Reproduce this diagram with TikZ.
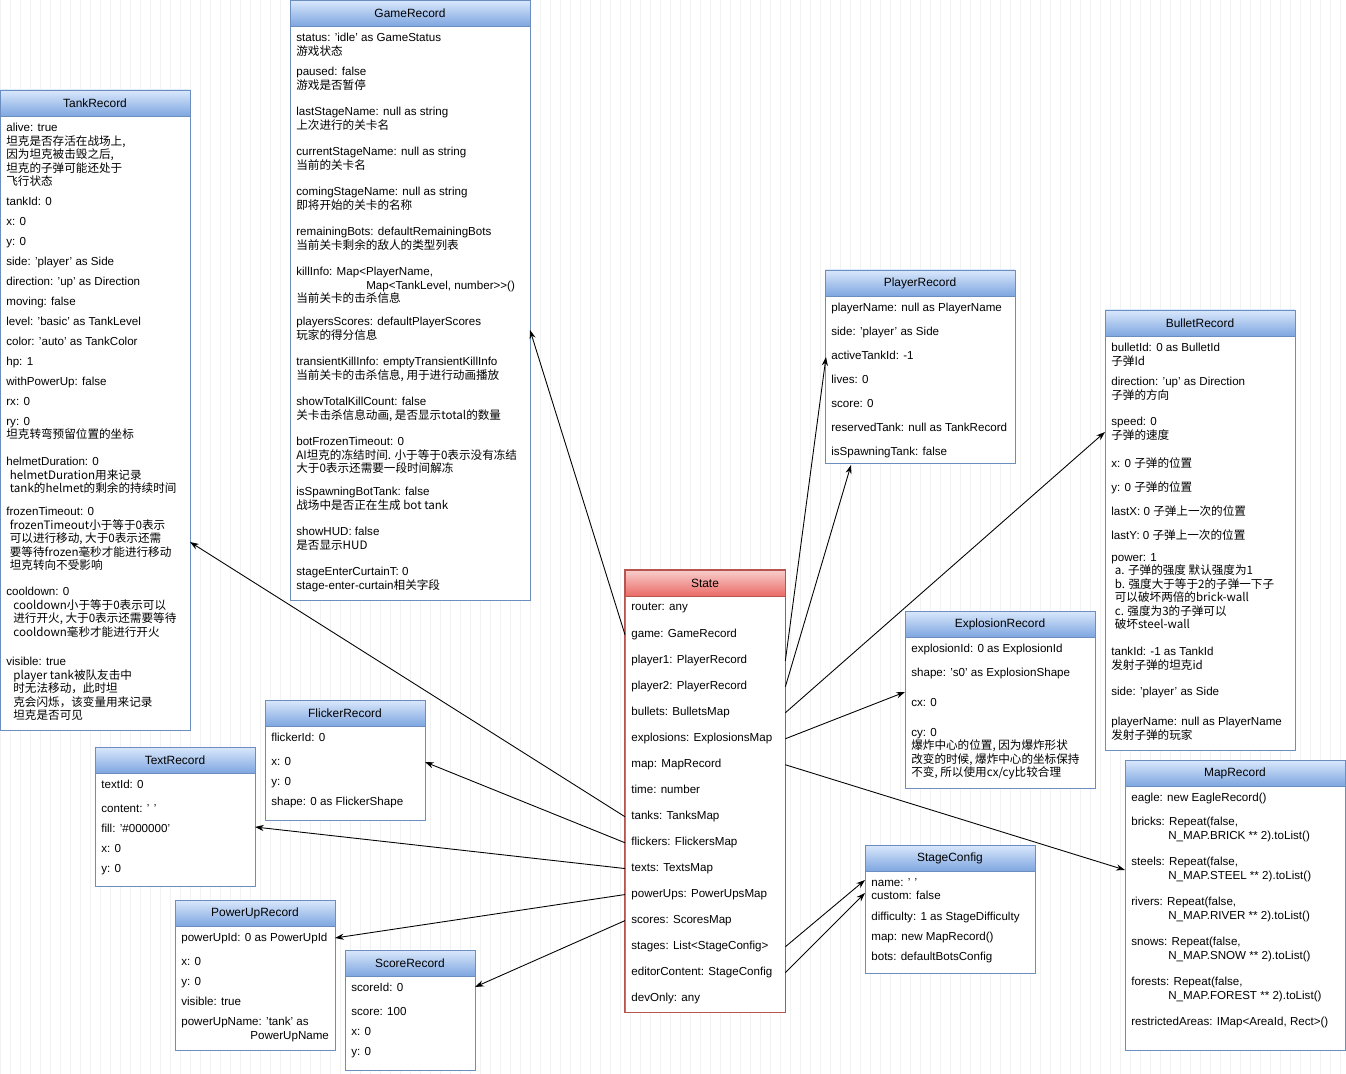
\documentclass[tikz,border=0pt]{standalone}
\usepackage{fontspec}
\setmainfont{Liberation Sans}
\newfontfamily\cjk{Noto Sans CJK SC}
\usetikzlibrary{fit}
\usetikzlibrary{arrows.meta}
\definecolor{hdrtop}{HTML}{DAE8FC}
\definecolor{hdrbot}{HTML}{7EA6E0}
\definecolor{hdrline}{HTML}{6C8EBF}
\definecolor{redtop}{HTML}{F8CECC}
\definecolor{redbot}{HTML}{EA6B66}
\definecolor{redline}{HTML}{B85450}
\tikzstyle{body} = [rectangle, draw=hdrline, fill=white, inner sep=0pt]
\tikzstyle{hdr} = [body, top color=hdrtop, bottom color=hdrbot]
\tikzstyle{hdrred} = [rectangle, draw=redline, inner sep=0pt, top color=redtop, bottom color=redbot]
\tikzstyle{fld} = [anchor=north west, align=left, inner xsep=0.12cm, inner ysep=0pt,
  font=\fontsize{6.6}{7.68}\selectfont]
\tikzstyle{ttl} = [font=\fontsize{6.8}{8}\selectfont]
\tikzstyle{link} = [-{Stealth[length=5pt,width=3.5pt]}, black, line width=0.5pt]
\newcommand{\zh}[1]{{\cjk #1}}
% record box: name, x, top, width, bottom, title, header style
\newcommand{\rec}[7]{
  \node[body, fit={(#2,#3) (#2+#4,#5)}] (#1B) {};
  \node[#7, fit={(#2,#3) (#2+#4,#3+26)}] (#1H) {};
  \node[ttl] at (#1H) {#6};
}
\newcommand{\fl}[4]{\node[fld] (#1) at (#2,#3) {#4};}

\begin{document}
\begin{tikzpicture}[x=0.02cm, y=-0.02cm]
  \useasboundingbox (0,0) rectangle (1346,1074);
  \fill[white] (0,0) rectangle (1346,1074);
  \draw[gray!10, step=10, line width=0.3pt] (0,0) grid (1346,1074);

  % GameRecord
  \rec{game}{290}{0}{240}{600}{GameRecord}{hdr}
  \fl{gStatus}{290}{33}{status: 'idle' as GameStatus\\\zh{游戏状态}}
  \fl{gPaused}{290}{67}{paused: false\\\zh{游戏是否暂停}}
  \fl{gLast}{290}{107}{lastStageName: null as string\\\zh{上次进行的关卡名}}
  \fl{gCur}{290}{147}{currentStageName: null as string\\\zh{当前的关卡名}}
  \fl{gComing}{290}{187}{comingStageName: null as string\\\zh{即将开始的关卡的名称}}
  \fl{gRemain}{290}{227}{remainingBots: defaultRemainingBots\\\zh{当前关卡剩余的敌人的类型列表}}
  \fl{gKill}{290}{267}{killInfo: Map<PlayerName,\\\hspace{1.4cm}Map<TankLevel, number>{}>()\\\zh{当前关卡的击杀信息}}
  \fl{gScores}{290}{317}{playersScores: defaultPlayerScores\\\zh{玩家的得分信息}}
  \fl{gTrans}{290}{357}{transientKillInfo: emptyTransientKillInfo\\\zh{当前关卡的击杀信息, 用于进行动画播放}}
  \fl{gShowKill}{290}{397}{showTotalKillCount: false\\\zh{关卡击杀信息动画, 是否显示total的数量}}
  \fl{gFrozen}{290}{437}{botFrozenTimeout: 0\\\zh{AI坦克的冻结时间. 小于等于0表示没有冻结}\\\zh{大于0表示还需要一段时间解冻}}
  \fl{gSpawn}{290}{487}{isSpawningBotTank: false\\\zh{战场中是否正在生成 bot tank}}
  \fl{gHud}{290}{527}{showHUD: false\\\zh{是否显示HUD}}
  \fl{gCurtain}{290}{567}{stageEnterCurtainT: 0\\stage-enter-curtain\zh{相关字段}}

  % TankRecord
  \rec{tank}{0}{90}{190}{730}{TankRecord}{hdr}
  \fl{tAlive}{0}{123}{alive: true\\\zh{坦克是否存活在战场上,}\\\zh{因为坦克被击毁之后,}\\\zh{坦克的子弹可能还处于}\\\zh{飞行状态}}
  \fl{tId}{0}{197}{tankId: 0}
  \fl{tX}{0}{217}{x: 0}
  \fl{tY}{0}{237}{y: 0}
  \fl{tSide}{0}{257}{side: 'player' as Side}
  \fl{tDir}{0}{277}{direction: 'up' as Direction}
  \fl{tMoving}{0}{297}{moving: false}
  \fl{tLevel}{0}{317}{level: 'basic' as TankLevel}
  \fl{tColor}{0}{337}{color: 'auto' as TankColor}
  \fl{tHp}{0}{357}{hp: 1}
  \fl{tPower}{0}{377}{withPowerUp: false}
  \fl{tRx}{0}{397}{rx: 0}
  \fl{tRy}{0}{417}{ry: 0\\\zh{坦克转弯预留位置的坐标}}
  \fl{tHelmet}{0}{457}{helmetDuration: 0\\\hspace{2pt}\zh{helmetDuration用来记录}\\\hspace{2pt}\zh{tank的helmet的剩余的持续时间}}
  \fl{tFrozen}{0}{507}{frozenTimeout: 0\\\hspace{2pt}\zh{frozenTimeout小于等于0表示}\\\hspace{2pt}\zh{可以进行移动, 大于0表示还需}\\\hspace{2pt}\zh{要等待frozen毫秒才能进行移动}\\\hspace{2pt}\zh{坦克转向不受影响}}
  \fl{tCool}{0}{587}{cooldown: 0\\\hspace{4pt}\zh{cooldown小于等于0表示可以}\\\hspace{4pt}\zh{进行开火, 大于0表示还需要等待}\\\hspace{4pt}\zh{cooldown毫秒才能进行开火}}
  \fl{tVisible}{0}{657}{visible: true\\\hspace{4pt}\zh{player tank被队友击中}\\\hspace{4pt}\zh{时无法移动，此时坦}\\\hspace{4pt}\zh{克会闪烁，该变量用来记录}\\\hspace{4pt}\zh{坦克是否可见}}

  % PlayerRecord
  \rec{player}{825}{270}{190}{463}{PlayerRecord}{hdr}
  \fl{pName}{825}{303}{playerName: null as PlayerName}
  \fl{pSide}{825}{327}{side: 'player' as Side}
  \fl{pActive}{825}{351}{activeTankId: -1}
  \fl{pLives}{825}{375}{lives: 0}
  \fl{pScore}{825}{399}{score: 0}
  \fl{pReserved}{825}{423}{reservedTank: null as TankRecord}
  \fl{pSpawn}{825}{447}{isSpawningTank: false}

  % BulletRecord
  \rec{bullet}{1105}{310}{190}{750}{BulletRecord}{hdr}
  \fl{bId}{1105}{343}{bulletId: 0 as BulletId\\\zh{子弹Id}}
  \fl{bDir}{1105}{377}{direction: 'up' as Direction\\\zh{子弹的方向}}
  \fl{bSpeed}{1105}{417}{speed: 0\\\zh{子弹的速度}}
  \fl{bX}{1105}{457}{x: 0 \zh{子弹的位置}}
  \fl{bY}{1105}{481}{y: 0 \zh{子弹的位置}}
  \fl{bLastX}{1105}{505}{lastX: 0 \zh{子弹上一次的位置}}
  \fl{bLastY}{1105}{529}{lastY: 0 \zh{子弹上一次的位置}}
  \fl{bPower}{1105}{553}{power: 1\\\hspace{2pt}\zh{a. 子弹的强度 默认强度为1}\\\hspace{2pt}\zh{b. 强度大于等于2的子弹一下子}\\\hspace{2pt}\zh{可以破坏两倍的brick-wall}\\\hspace{2pt}\zh{c. 强度为3的子弹可以}\\\hspace{2pt}\zh{破坏steel-wall}}
  \fl{bTank}{1105}{647}{tankId: -1 as TankId\\\zh{发射子弹的坦克id}}
  \fl{bSide}{1105}{687}{side: 'player' as Side}
  \fl{bPlayer}{1105}{717}{playerName: null as PlayerName\\\zh{发射子弹的玩家}}

  % State
  \rec{state}{625}{570}{160}{1012}{State}{hdrred}
  \draw[redline] (stateB.north west) rectangle (stateB.south east);
  \fl{sRouter}{625}{603}{router: any}
  \fl{sGame}{625}{629}{game: GameRecord}
  \fl{sP1}{625}{655}{player1: PlayerRecord}
  \fl{sP2}{625}{681}{player2: PlayerRecord}
  \fl{sBullets}{625}{707}{bullets: BulletsMap}
  \fl{sExpl}{625}{733}{explosions: ExplosionsMap}
  \fl{sMap}{625}{759}{map: MapRecord}
  \fl{sTime}{625}{785}{time: number}
  \fl{sTanks}{625}{811}{tanks: TanksMap}
  \fl{sFlick}{625}{837}{flickers: FlickersMap}
  \fl{sTexts}{625}{863}{texts: TextsMap}
  \fl{sPowerUps}{625}{889}{powerUps: PowerUpsMap}
  \fl{sScores}{625}{915}{scores: ScoresMap}
  \fl{sStages}{625}{941}{stages: List<StageConfig>}
  \fl{sEditor}{625}{967}{editorContent: StageConfig}
  \fl{sDev}{625}{993}{devOnly: any}

  % ExplosionRecord
  \rec{expl}{905}{611}{190}{788}{ExplosionRecord}{hdr}
  \fl{eId}{905}{644}{explosionId: 0 as ExplosionId}
  \fl{eShape}{905}{668}{shape: 's0' as ExplosionShape}
  \fl{eCx}{905}{698}{cx: 0}
  \fl{eCy}{905}{728}{cy: 0\\\zh{爆炸中心的位置, 因为爆炸形状}\\\zh{改变的时候, 爆炸中心的坐标保持}\\\zh{不变, 所以使用cx/cy比较合理}}

  % MapRecord
  \rec{map}{1125}{760}{220}{1050}{MapRecord}{hdr}
  \fl{mEagle}{1125}{793}{eagle: new EagleRecord()}
  \fl{mBricks}{1125}{817}{bricks: Repeat(false,\\\hspace{0.74cm}N\_MAP.BRICK ** 2).toList()}
  \fl{mSteels}{1125}{857}{steels: Repeat(false,\\\hspace{0.74cm}N\_MAP.STEEL ** 2).toList()}
  \fl{mRivers}{1125}{897}{rivers: Repeat(false,\\\hspace{0.74cm}N\_MAP.RIVER ** 2).toList()}
  \fl{mSnows}{1125}{937}{snows: Repeat(false,\\\hspace{0.74cm}N\_MAP.SNOW ** 2).toList()}
  \fl{mForests}{1125}{977}{forests: Repeat(false,\\\hspace{0.74cm}N\_MAP.FOREST ** 2).toList()}
  \fl{mAreas}{1125}{1017}{restrictedAreas: IMap<AreaId, Rect>()}

  % StageConfig
  \rec{stage}{865}{845}{170}{973}{StageConfig}{hdr}
  \fl{cName}{865}{878}{name: ' '\\custom: false}
  \fl{cDiff}{865}{912}{difficulty: 1 as StageDifficulty}
  \fl{cMap}{865}{932}{map: new MapRecord()}
  \fl{cBots}{865}{952}{bots: defaultBotsConfig}

  % FlickerRecord
  \rec{flicker}{265}{700}{160}{820}{FlickerRecord}{hdr}
  \fl{fId}{265}{733}{flickerId: 0}
  \fl{fX}{265}{757}{x: 0}
  \fl{fY}{265}{777}{y: 0}
  \fl{fShape}{265}{797}{shape: 0 as FlickerShape}

  % TextRecord
  \rec{text}{95}{747}{160}{886}{TextRecord}{hdr}
  \fl{xId}{95}{780}{textId: 0}
  \fl{xContent}{95}{804}{content: ' '}
  \fl{xFill}{95}{824}{fill: '\#000000'}
  \fl{xX}{95}{844}{x: 0}
  \fl{xY}{95}{864}{y: 0}

  % PowerUpRecord
  \rec{powerup}{175}{900}{160}{1050}{PowerUpRecord}{hdr}
  \fl{uId}{175}{933}{powerUpId: 0 as PowerUpId}
  \fl{uX}{175}{957}{x: 0}
  \fl{uY}{175}{977}{y: 0}
  \fl{uVisible}{175}{997}{visible: true}
  \fl{uName}{175}{1017}{powerUpName: 'tank' as\\\hspace{1.38cm}PowerUpName}

  % ScoreRecord
  \rec{score}{345}{950}{130}{1070}{ScoreRecord}{hdr}
  \fl{oId}{345}{983}{scoreId: 0}
  \fl{oScore}{345}{1007}{score: 100}
  \fl{oX}{345}{1027}{x: 0}
  \fl{oY}{345}{1047}{y: 0}

  % arrow ends
  \coordinate (gameIn) at (530,330);
  \coordinate (p1In) at (826,357);
  \coordinate (p2In) at (851,465);
  \coordinate (bulletIn) at (1105,432);
  \coordinate (explIn) at (905,692);
  \coordinate (mapIn) at (1125,870);
  \coordinate (tankIn) at (190,542);
  \coordinate (flickIn) at (425,762);
  \coordinate (textIn) at (255,827);
  \coordinate (powerIn) at (335,938);
  \coordinate (scoreIn) at (475,987);
  \coordinate (stageIn) at (865,880);
  \coordinate (editIn) at (865,893);

  \draw[link] (sGame.west) -- (gameIn);
  \draw[link] (sP1.west -| stateB.east) -- (p1In);
  \draw[link] (sP2.west -| stateB.east) -- (p2In);
  \draw[link] (sBullets.west -| stateB.east) -- (bulletIn);
  \draw[link] (sExpl.west -| stateB.east) -- (explIn);
  \draw[link] (sMap.west -| stateB.east) -- (mapIn);
  \draw[link] (sTanks.west) -- (tankIn);
  \draw[link] (sFlick.west) -- (flickIn);
  \draw[link] (sTexts.west) -- (textIn);
  \draw[link] (sPowerUps.west) -- (powerIn);
  \draw[link] (sScores.west) -- (scoreIn);
  \draw[link] (sStages.west -| stateB.east) -- (stageIn);
  \draw[link] (sEditor.west -| stateB.east) -- (editIn);
\end{tikzpicture}
\end{document}
